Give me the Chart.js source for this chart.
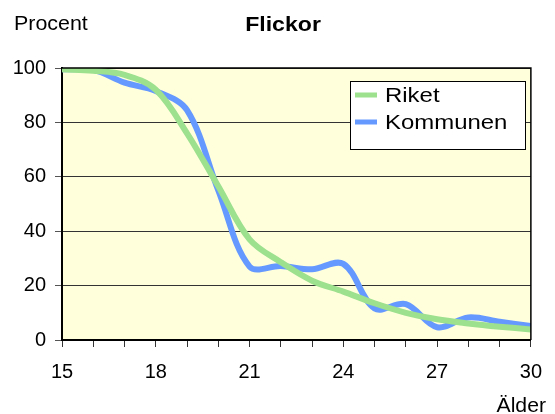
<!DOCTYPE html>
<html>
<head>
  <title>Flickor</title>
  <script src="https://cdn.jsdelivr.net/npm/chart.js"></script>
  <style>
    body { margin: 0; background: #fff; }
    #wrap { width: 555px; height: 414px; }
  </style>
</head>
<body>
  <div id="wrap"><canvas id="myChart" width="555" height="414"></canvas></div>

  <script>
// Data
const ages = [15, 16, 17, 18, 19, 20, 21, 22, 23, 24, 25, 26, 27, 28, 29, 30];
const riket = [99.5, 99, 97.5, 92, 76, 56.5, 37, 28.6, 21.8, 17.8, 13.5, 10, 7.6, 6.1, 4.9, 3.9];
const kommunen = [99.5, 99.3, 94.6, 91.5, 84.5, 55, 27, 27.2, 26, 28, 11.6, 13.2, 4.7, 8.3, 6.7, 5.1];
const yTicks = [0, 20, 40, 60, 80, 100];
const xLabelEvery = 3;

const FONT = 'Arial, "Liberation Sans", sans-serif';

// text slightly wider than the font, like the reference
function wideText(ctx, txt, x, y, sx) {
  ctx.save();
  ctx.translate(x, y);
  ctx.scale(sx, 1);
  ctx.fillText(txt, 0, 0);
  ctx.restore();
}

// plot area background + frame, titles and boxed legend
const decor = {
  id: 'decor',
  beforeDraw(chart) {
    const { ctx, chartArea: a } = chart;
    ctx.save();
    ctx.fillStyle = '#ffffdc';
    ctx.fillRect(a.left, a.top, a.right - a.left, a.bottom - a.top);
    ctx.restore();
  },
  afterDraw(chart) {
    const { ctx, chartArea: a } = chart;
    ctx.save();
    ctx.strokeStyle = '#000';
    ctx.lineWidth = 1.5;
    ctx.beginPath();
    ctx.moveTo(a.left, a.top);
    ctx.lineTo(a.right, a.top);
    ctx.lineTo(a.right, a.bottom);
    ctx.stroke();

    ctx.fillStyle = '#000';
    ctx.textBaseline = 'alphabetic';
    ctx.font = '20px ' + FONT;
    ctx.textAlign = 'left';
    wideText(ctx, 'Procent', 14, 30, 1.07);
    ctx.font = 'bold 21px ' + FONT;
    ctx.textAlign = 'center';
    wideText(ctx, 'Flickor', 283, 31, 1.1);
    ctx.font = '20px ' + FONT;
    ctx.textAlign = 'right';
    wideText(ctx, 'Älder', 546, 412, 1.06);

    // legend
    ctx.fillStyle = '#fff';
    ctx.fillRect(350, 81, 175, 68);
    ctx.strokeStyle = '#000';
    ctx.lineWidth = 1;
    ctx.strokeRect(350.5, 81.5, 175, 68);
    const rows = [95, 122];
    chart.data.datasets.forEach((ds, i) => {
      ctx.strokeStyle = ds.borderColor;
      ctx.lineWidth = 5;
      ctx.beginPath();
      ctx.moveTo(355, rows[i]);
      ctx.lineTo(377, rows[i]);
      ctx.stroke();
      ctx.fillStyle = '#000';
      ctx.font = '21px ' + FONT;
      ctx.textAlign = 'left';
      ctx.textBaseline = 'middle';
      wideText(ctx, ds.label, 385, rows[i] + 1, 1.14);
    });
    ctx.restore();
  }
};

new Chart(document.getElementById('myChart'), {
  type: 'line',
  data: {
    labels: ages,
    datasets: [{
      label: 'Riket',
      data: ages.map((a, i) => ({ x: a, y: riket[i] })),
      borderColor: '#9de08e',
      borderWidth: 6,
      pointRadius: 0,
      tension: 0.35,
      fill: false
    }, {
      label: 'Kommunen',
      data: ages.map((a, i) => ({ x: a, y: kommunen[i] })),
      borderColor: '#6699ff',
      borderWidth: 6,
      pointRadius: 0,
      tension: 0.35,
      fill: false
    }]
  },
  options: {
    responsive: false,
    animation: false,
    layout: { padding: { top: 68, right: 23, left: 0, bottom: 0 } },
    plugins: {
      legend: { display: false },
      title: { display: false },
      tooltip: { enabled: false }
    },
    scales: {
      x: {
        type: 'linear',
        min: 15,
        max: 30,
        afterFit(scale) { scale.height = 74; },
        ticks: {
          stepSize: 1,
          autoSkip: false,
          maxRotation: 0,
          padding: 13,
          color: '#000',
          font: { family: FONT, size: 20 },
          callback: (v) => ((v - ages[0]) % xLabelEvery === 0 ? String(v) : '')
        },
        grid: { drawOnChartArea: false, tickLength: 7, tickColor: '#333', lineWidth: 1 },
        border: { color: '#000', width: 2 }
      },
      y: {
        min: yTicks[0],
        max: yTicks[yTicks.length - 1],
        afterFit(scale) { scale.width = 62; },
        afterBuildTicks(scale) { scale.ticks = yTicks.map(v => ({ value: v })); },
        ticks: {
          padding: 9,
          color: '#000',
          font: { family: FONT, size: 20 }
        },
        grid: { color: '#333', lineWidth: 1, tickLength: 7, tickColor: '#555' },
        border: { color: '#000', width: 2 }
      }
    }
  },
  plugins: [decor]
});
  </script>
</body>
</html>
